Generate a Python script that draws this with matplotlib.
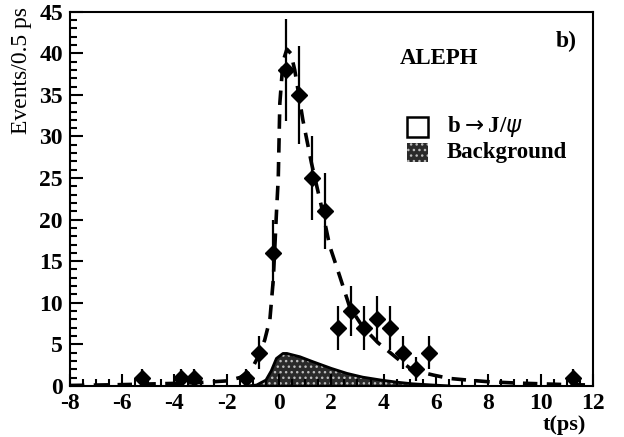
import numpy as np
import matplotlib
matplotlib.use('Agg')
import matplotlib.pyplot as plt
from matplotlib.patches import Rectangle

plt.rcParams['font.family'] = ['Liberation Serif', 'DejaVu Serif']
plt.rcParams['axes.unicode_minus'] = False

# measured points (bin centres, events per 0.5 ps)
t_data = [-5.25, -3.75, -3.25, -1.25, -0.75, -0.25, 0.25, 0.75, 1.25, 1.75,
          2.25, 2.75, 3.25, 3.75, 4.25, 4.75, 5.25, 5.75, 11.25]
n_data = [1, 1, 1, 1, 4, 16, 38, 35, 25, 21,
          7, 9, 7, 8, 7, 4, 2, 4, 1]
err_data = np.sqrt(n_data)

# fit curve (dashed)
t_fit = [-8, -6, -4, -3, -2, -1.5, -1.2, -1.0, -0.8, -0.55, -0.35, -0.22, -0.1,
         -0.03, 0.03, 0.15, 0.3, 0.45, 0.6, 0.91, 1.24, 1.62, 1.94, 2.32, 2.7,
         3.2, 3.78, 4.6, 5.1, 5.9, 6.5, 7.2, 8, 9, 10, 11, 12]
y_fit = [0.05, 0.15, 0.3, 0.4, 0.6, 1.0, 1.6, 2.3, 3.5, 5.5, 8, 12.8, 20.8,
         25, 34, 39, 40.5, 40, 38, 32, 26.8, 21.6, 16.8, 13.2, 9.5,
         7.1, 5.2, 3.1, 1.9, 1.3, 0.9, 0.7, 0.5, 0.35, 0.25, 0.15, 0.1]

# background component (shaded)
t_bkg = [-1.2, -0.86, -0.5, -0.3, -0.1, 0.15, 0.3, 0.8, 1.3, 2.0, 2.6, 3.2,
         3.9, 4.5, 5.1, 5.9, 6.5]
y_bkg = [0.0, 0.1, 0.7, 1.8, 3.3, 3.9, 3.9, 3.5, 2.9, 2.1, 1.5, 1.05,
         0.7, 0.45, 0.25, 0.1, 0.0]

fig = plt.figure(figsize=(6.24, 4.37), dpi=100)
ax = fig.add_axes([0.112, 0.117, 0.838, 0.856])

ax.fill_between(t_bkg, y_bkg, 0, facecolor='#2a2a2a', edgecolor='#bbbbbb',
                hatch='...', linewidth=0, zorder=1)
ax.plot(t_bkg, y_bkg, color='black', lw=2, zorder=2)

ax.plot(t_fit, y_fit, color='black', lw=2.6, dashes=(4, 2.6), zorder=3)

ax.errorbar(t_data, n_data, yerr=err_data, fmt='D', color='black',
            markersize=8, elinewidth=1.6, capsize=0, zorder=4)

ax.set_xlim(-8, 12)
ax.set_ylim(0, 45)
ax.set_xticks(np.arange(-8, 13, 2))
ax.set_xticks(np.arange(-8, 12.1, 0.5), minor=True)
ax.set_yticks(np.arange(0, 46, 5))
ax.set_yticks(np.arange(0, 46, 1), minor=True)
ax.tick_params(which='both', direction='in', top=False, right=False, width=1.5)
ax.tick_params(which='major', length=9, labelsize=17, pad=5)
ax.tick_params(which='minor', length=5)
for lab in ax.get_xticklabels() + ax.get_yticklabels():
    lab.set_fontweight('bold')
for s in ax.spines.values():
    s.set_linewidth(1.5)

fig.text(0.035, 0.985, 'Events/0.5 ps', rotation=90, ha='center', va='top',
         fontsize=17)
fig.text(0.905, 0.005, 't(ps)', ha='center', va='bottom', fontsize=16,
         fontweight='bold')

ax.text(0.95, 0.92, 'b)', transform=ax.transAxes, ha='center', va='center',
        fontsize=17, fontweight='bold')
ax.text(0.706, 0.874, 'ALEPH', transform=ax.transAxes, ha='center',
        va='center', fontsize=16.5, fontweight='bold')

ax.add_patch(Rectangle((0.644, 0.666), 0.04, 0.053, transform=ax.transAxes,
                       facecolor='white', edgecolor='black', lw=1.8))
ax.add_patch(Rectangle((0.644, 0.599), 0.04, 0.051, transform=ax.transAxes,
                       facecolor='#2a2a2a', edgecolor='#bbbbbb', hatch='...',
                       lw=0))
ax.text(0.721, 0.693, r'b$\rightarrow$J/$\psi$', transform=ax.transAxes,
        ha='left', va='center', fontsize=16.5, fontweight='bold')
ax.text(0.721, 0.623, 'Background', transform=ax.transAxes, ha='left',
        va='center', fontsize=16.5, fontweight='bold')

fig.savefig('out.png', dpi=100)
